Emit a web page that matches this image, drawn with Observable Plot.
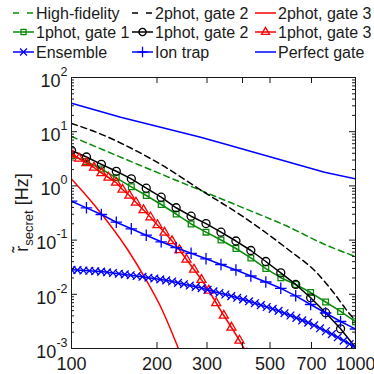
<!DOCTYPE html>
<html><head><meta charset="utf-8">
<script src="https://cdn.jsdelivr.net/npm/d3@7"></script>
<script src="https://cdn.jsdelivr.net/npm/@observablehq/plot@0.6"></script>
<style>
body{margin:0;background:#fff;font-family:"Liberation Sans",Arial,sans-serif;}
#chart svg{display:block}
</style></head><body><div id="chart"></div>
<script>
// ---------- data ----------
const highFidX = [100,175,309,410,567,784,1000];
const highFidY = [8.16,2.38,0.694,0.378,0.186,0.0819,0.0498];
const twoPhotG2X = [100,124.8,163.6,214.3,280.7,403.3,576.3,734.7,836.6,944.9,1000];
const twoPhotG2Y = [14.17,9.38,4.84,2.213,0.884,0.2668,0.0685,0.0242,0.0108,0.00461,0.00329];
const twoPhotG3X = [100,121.5,157.5,182.2,205.8,238.7];
const twoPhotG3Y = [1.34,0.417,0.0671,0.0193,0.00596,0.00096];
const gridX = [100,112.9,127.4,143.8,162.4,183.3,206.9,233.6,263.7,297.6,336.0,379.3,428.1,483.3,545.6,615.8,695.2,784.8,885.9,1000];
const onePhotG1Y = [3.638,2.819,2.050,1.411,0.9625,0.665,0.4537,0.3030,0.1982,0.1399,0.1004,0.0700,0.0468,0.0299,0.02024,0.01517,0.01079,0.00721,0.00482,0.00311];
const onePhotG2Y = [4.50,3.41,2.50,1.86,1.35,0.907,0.619,0.395,0.276,0.202,0.140,0.0962,0.0643,0.0403,0.0249,0.0152,0.00862,0.00458,0.00231,0.00104];
const onePhotG3X = [100,106.3,112.9,120.0,127.5,135.0,143.5,151.2,160.0,168.7,179.3,189.7,200.8,212.6,225.9,240.0,254.0,270.0,286.9,304.5,323.3,343.8,365.9,390.4,414.9];
const onePhotG3Y = [3.80,3.20,2.645,2.185,1.730,1.429,1.155,0.858,0.665,0.494,0.359,0.2646,0.190,0.138,0.0962,0.0657,0.0439,0.0287,0.01851,0.01175,0.00691,0.00406,0.00244,0.001406,0.000809];
const ensembleX = [100,104.9,110.1,115.5,121.2,127.1,133.4,139.9,146.8,154.0,161.6,169.5,177.8,186.6,195.7,205.4,215.4,226.0,237.1,248.8,261.0,273.8,287.3,301.4,316.2,331.7,348.1,365.2,383.1,401.9,421.7,442.4,464.2,487.0,510.9,536.0,562.3,590.0,619.0,649.4,681.3,714.7,749.9,786.7,825.4,866.0,908.5,953.1,1000];
const ensembleY = [0.0283,0.02795,0.02748,0.02714,0.02667,0.02624,0.02547,0.02472,0.02399,0.02329,0.02250,0.02178,0.02104,0.02024,0.01958,0.01883,0.01812,0.01722,0.01629,0.01535,0.01453,0.01375,0.01301,0.01211,0.01132,0.01057,0.00991,0.00927,0.00862,0.00805,0.00743,0.00685,0.00632,0.00583,0.00538,0.00494,0.00448,0.00406,0.00367,0.00331,0.00301,0.00268,0.00236,0.00208,0.00184,0.00161,0.00140,0.00121,0.00104];
const ionTrapY = [0.522,0.394,0.2967,0.2138,0.1616,0.1231,0.0930,0.0724,0.0571,0.0452,0.0355,0.02807,0.02176,0.01686,0.01290,0.00938,0.00648,0.00452,0.00315,0.00229];
const perfectX = [100,149,285,344,778,1000];
const perfectY = [33.6,18.5,7.92,5.98,1.79,1.35];

const seriesNames = ["High-fidelity","2phot, gate 2","2phot, gate 3","1phot, gate 1","1phot, gate 2","1phot, gate 3","Ensemble","Ion trap","Perfect gate"];
const xTicks = [100,200,300,400,500,700,1000];
const xTickLabels = ["100","200","300","","500","700","1000"];
const yTicks = [1e-3,1e-2,1e-1,1,10,100];
const yTickExp = ["-3","-2","-1","0","1","2"];

// ---------- styling ----------
const GREEN = "#0a8a0a", BLACK = "#000000", RED = "#ff0000", BLUE = "#0000ff";
const series = [
  {xs: highFidX,   ys: highFidY,   color: GREEN, dash: "6,4", curve: "monotone-x"},
  {xs: twoPhotG2X, ys: twoPhotG2Y, color: BLACK, dash: "6,4", curve: "monotone-x"},
  {xs: twoPhotG3X, ys: twoPhotG3Y, color: RED,   curve: "monotone-x"},
  {xs: gridX,      ys: onePhotG1Y, color: GREEN, symbol: "square2", r: 3.6},
  {xs: gridX,      ys: onePhotG2Y, color: BLACK, symbol: "circle", r: 4},
  {xs: onePhotG3X, ys: onePhotG3Y, color: RED,   symbol: "triangle2", r: 4.3},
  {xs: ensembleX,  ys: ensembleY,  color: BLUE,  symbol: "times", r: 3.6},
  {xs: gridX,      ys: ionTrapY,   color: BLUE,  symbol: "plus", r: 3.8},
  {xs: perfectX,   ys: perfectY,   color: BLUE}
];
series.forEach((s, i) => { s.name = seriesNames[i]; s.data = s.xs.map((x, j) => ({x, y: s.ys[j]})); });

const W = 374, LEG_H = 66, H = 308;
const mL = 71, mR = 19, mT = 11, mB = 26;
const plotW = W - mL - mR, plotH = H - mT - mB;
const AX = "#1a1a1a";
const LW = 1.5;

// ---------- legend ----------
const legend = d3.select("#chart").append("svg").attr("width", W).attr("height", LEG_H)
  .attr("font-family", "Liberation Sans, Arial, sans-serif");
const colX = [13, 132, 255], rowY = [13, 32, 52];
const symMap = {square2: d3.symbolSquare2, circle: d3.symbolCircle, triangle2: d3.symbolTriangle2, times: d3.symbolTimes, plus: d3.symbolPlus};
series.forEach((s, i) => {
  const cx = colX[i % 3], cy = rowY[Math.floor(i / 3)];
  const g = legend.append("g").attr("transform", `translate(${cx},${cy})`);
  g.append("line").attr("x1", 0).attr("x2", 21).attr("y1", 0).attr("y2", 0)
    .attr("stroke", s.color).attr("stroke-width", LW)
    .attr("stroke-dasharray", s.dash ? "6,8" : null);
  if (s.symbol) {
    g.append("path").attr("transform", "translate(10.5,0)")
      .attr("d", d3.symbol(symMap[s.symbol], Math.PI * s.r * s.r * 0.8)())
      .attr("fill", "none").attr("stroke", s.color).attr("stroke-width", 1.3);
  }
  g.append("text").attr("x", 23).attr("y", 0).attr("dy", "0.35em")
    .attr("font-size", 16).attr("fill", AX).text(s.name);
});

// ---------- plot ----------
const yMinor = d3.scaleLog().domain([1e-3, 100]).ticks().filter(v => !yTicks.some(t => Math.abs(t - v) / t < 1e-9));
const xLabelMap = new Map(xTicks.map((t, i) => [t, xTickLabels[i]]));

const marks = [];
series.forEach(s => {
  marks.push(Plot.line(s.data, {x: "x", y: "y", stroke: s.color, strokeWidth: LW,
    strokeDasharray: s.dash, curve: s.curve || "linear", clip: true}));
  if (s.symbol) marks.push(Plot.dot(s.data, {x: "x", y: "y", symbol: () => s.symbol, r: s.r,
    stroke: s.color, fill: "none", strokeWidth: 1.3, clip: true}));
});
// inward ticks on all four sides
marks.push(
  Plot.tickY(yTicks, {y: d => d, insetRight: plotW - 6, stroke: AX}),
  Plot.tickY(yTicks, {y: d => d, insetLeft: plotW - 6, stroke: AX}),
  Plot.tickY(yMinor, {y: d => d, insetRight: plotW - 3, stroke: AX}),
  Plot.tickY(yMinor, {y: d => d, insetLeft: plotW - 3, stroke: AX}),
  Plot.tickX(xTicks, {x: d => d, insetTop: plotH - 6, stroke: AX}),
  Plot.tickX(xTicks, {x: d => d, insetBottom: plotH - 6, stroke: AX}),
  Plot.axisY({ticks: yTicks, tickSize: 0, tickPadding: 4, fontSize: 18, dy: 3.5,
    tickFormat: d => "10^" + yTickExp[yTicks.indexOf(d)], label: null}),
  Plot.axisX({ticks: xTicks, tickSize: 0, tickPadding: 9, fontSize: 18,
    tickFormat: d => xLabelMap.get(d), label: null}),
  Plot.frame({stroke: AX, strokeWidth: 1})
);

const svg = Plot.plot({
  width: W, height: H,
  marginLeft: mL, marginRight: mR, marginTop: mT, marginBottom: mB,
  style: {fontFamily: "Liberation Sans, Arial, sans-serif", color: AX, background: "white", overflow: "visible"},
  x: {type: "log", domain: [100, 1000]},
  y: {type: "log", domain: [1e-3, 100]},
  marks
});
document.getElementById("chart").appendChild(svg);

// superscript exponents on y tick labels
d3.select(svg).selectAll('g[aria-label="y-axis tick label"] text').each(function() {
  const t = this.textContent;
  const parts = t.split("^");
  if (parts.length !== 2) return;
  const sel = d3.select(this);
  sel.text(null);
  sel.append("tspan").text(parts[0]);
  sel.append("tspan").attr("font-size", 12.5).attr("dy", -11).text(parts[1]);
});

// y axis title: r-tilde with subscript "secret" and [Hz]
const yl = d3.select(svg).append("text")
  .attr("transform", `translate(28,${mT + plotH / 2}) rotate(-90)`)
  .attr("text-anchor", "middle").attr("font-size", 18).attr("fill", AX);
yl.append("tspan").text("r\u0303");
yl.append("tspan").attr("font-size", 13).attr("dy", 5).text("secret");
yl.append("tspan").attr("dy", -5).text(" [Hz]");
</script></body></html>
